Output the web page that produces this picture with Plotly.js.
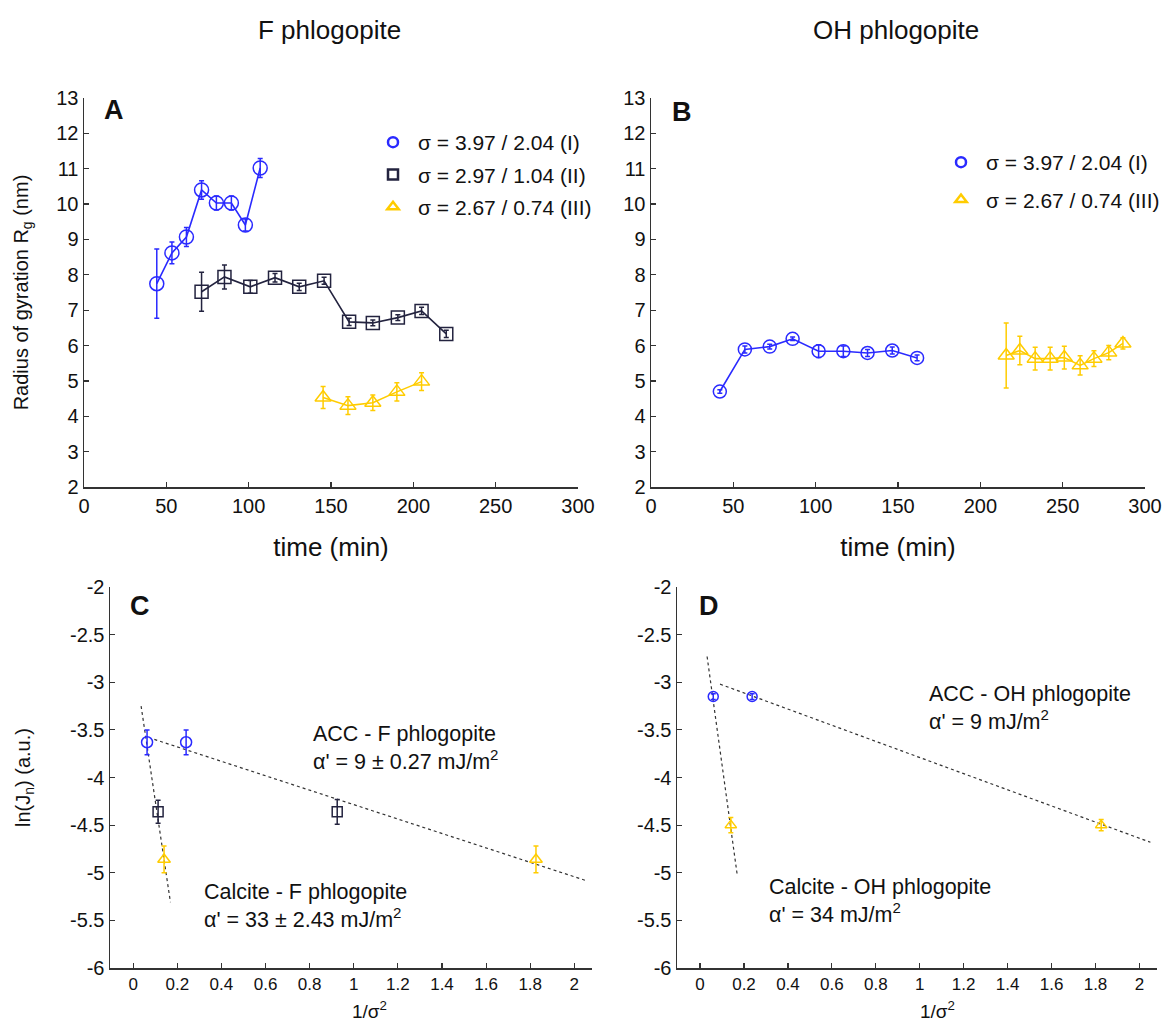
<!DOCTYPE html>
<html>
<head>
<meta charset="utf-8">
<script src="https://cdn.plot.ly/plotly-3.0.1.min.js"></script>
<style>html,body{margin:0;padding:0;background:#fff;}#chart{width:1169px;height:1025px;}</style>
</head>
<body>
<div id="chart"></div>
<script>
// ---------- Panel A: F phlogopite (time vs Rg) ----------
const timeA_I   = [44.2, 53.4, 62.2, 71.4, 80.4, 89.5, 98.0, 107.0];
const rgA_I     = [7.75, 8.62, 9.07, 10.40, 10.03, 10.03, 9.41, 11.02];
const errA_I    = [0.98, 0.31, 0.27, 0.26, 0.20, 0.20, 0.17, 0.27];

const timeA_II  = [71.4, 85.3, 101.0, 116.0, 130.7, 145.8, 161.0, 175.4, 190.6, 205.0, 220.0];
const rgA_II    = [7.52, 7.94, 7.66, 7.92, 7.66, 7.83, 6.67, 6.64, 6.79, 6.98, 6.33];
const errA_II   = [0.55, 0.34, 0.18, 0.12, 0.10, 0.10, 0.10, 0.08, 0.08, 0.10, 0.10];

const timeA_III = [145.2, 160.3, 175.4, 190.0, 205.0];
const rgA_III   = [4.53, 4.30, 4.38, 4.69, 4.98];
const errA_III  = [0.31, 0.25, 0.22, 0.26, 0.25];

// ---------- Panel B: OH phlogopite ----------
const timeB_I   = [41.8, 57.0, 72.1, 86.0, 101.8, 116.8, 131.5, 146.5, 161.6];
const rgB_I     = [4.70, 5.89, 5.97, 6.19, 5.84, 5.84, 5.79, 5.86, 5.65];
const errB_I    = [0.05, 0.10, 0.07, 0.05, 0.18, 0.15, 0.10, 0.10, 0.08];

const timeB_III = [215.7, 224.0, 233.3, 242.4, 251.0, 260.6, 269.0, 278.0, 286.6];
const rgB_III   = [5.72, 5.86, 5.63, 5.63, 5.66, 5.44, 5.63, 5.80, 6.06];
const errB_III  = [0.92, 0.40, 0.32, 0.32, 0.32, 0.27, 0.22, 0.20, 0.16];

// ---------- Panel C: ln(Jn) vs 1/sigma^2, F phlogopite ----------
const invSigC_I   = [0.063, 0.240];
const lnJC_I      = [-3.63, -3.63];
const errC_I      = [0.13, 0.13];
const invSigC_II  = [0.113, 0.925];
const lnJC_II     = [-4.36, -4.36];
const errC_II     = [0.12, 0.13];
const invSigC_III = [0.140, 1.826];
const lnJC_III    = [-4.86, -4.86];
const errC_III    = [0.14, 0.14];
const fitC_ACC_x  = [0.096, 2.05];
const fitC_ACC_y  = [-3.60, -5.08];
const fitC_Cal_x  = [0.036, 0.169];
const fitC_Cal_y  = [-3.25, -5.31];

// ---------- Panel D: ln(Jn) vs 1/sigma^2, OH phlogopite ----------
const invSigD_I   = [0.060, 0.237];
const lnJD_I      = [-3.15, -3.15];
const errD_I      = [0.03, 0.03];
const invSigD_III = [0.140, 1.826];
const lnJD_III    = [-4.50, -4.50];
const errD_III    = [0.08, 0.06];
const fitD_ACC_x  = [0.091, 2.05];
const fitD_ACC_y  = [-3.02, -4.68];
const fitD_Cal_x  = [0.032, 0.169];
const fitD_Cal_y  = [-2.73, -5.02];

// tick labels
const lnTickVals = [-2, -2.5, -3, -3.5, -4, -4.5, -5, -5.5, -6];
const lnTickText = ['-2', '-2.5', '-3', '-3.5', '-4', '-4.5', '-5', '-5.5', '-6'];
const invTickVals = [0, 0.2, 0.4, 0.6, 0.8, 1, 1.2, 1.4, 1.6, 1.8, 2];
const invTickText = ['0', '0.2', '0.4', '0.6', '0.8', '1', '1.2', '1.4', '1.6', '1.8', '2'];

const legI   = 'σ = 3.97 / 2.04 (I)';
const legII  = 'σ = 2.97 / 1.04 (II)';
const legIII = 'σ = 2.67 / 0.74 (III)';

// ---------- styles ----------
const BLUE = '#2a2aff';
const NAVY = '#23233f';
const GOLD = '#ffcc00';
const FONT = 'Liberation Sans, Arial, Helvetica, sans-serif';
const W = 1169, H = 1025;
const px = v => v / W;
const py = v => 1 - v / H;

function series(x, y, err, color, symbol, size, xa, ya, withLine) {
  return {
    x: x, y: y, xaxis: xa, yaxis: ya, type: 'scatter',
    mode: withLine ? 'lines+markers' : 'markers',
    line: {color: color, width: 1.6},
    marker: {symbol: symbol, size: size, color: color, line: {color: color, width: 1.5}},
    error_y: {type: 'data', array: err, visible: true, color: color, thickness: 1.5, width: 2.5},
    showlegend: false, hoverinfo: 'skip'
  };
}
function fitLine(x, y, xa, ya) {
  return {x: x, y: y, xaxis: xa, yaxis: ya, type: 'scatter', mode: 'lines',
    line: {color: '#333', width: 1.2, dash: 'dot'}, showlegend: false, hoverinfo: 'skip'};
}
function legendItem(name, color, symbol, xa, ya, leg) {
  return {x: [null], y: [null], xaxis: xa, yaxis: ya, type: 'scatter', mode: 'markers', name: name,
    legendgroup: leg + name,
    marker: {symbol: symbol, size: 10, color: color, line: {color: color, width: 2.5}},
    showlegend: true, legend: leg};
}

const traces = [
  series(timeA_I, rgA_I, errA_I, BLUE, 'circle-open', 14, 'x', 'y', true),
  series(timeA_II, rgA_II, errA_II, NAVY, 'square-open', 13, 'x', 'y', true),
  series(timeA_III, rgA_III, errA_III, GOLD, 'triangle-up-open', 14, 'x', 'y', true),
  legendItem(legI, BLUE, 'circle-open', 'x', 'y', 'legend'),
  legendItem(legII, NAVY, 'square-open', 'x', 'y', 'legend'),
  legendItem(legIII, GOLD, 'triangle-up-open', 'x', 'y', 'legend'),

  series(timeB_I, rgB_I, errB_I, BLUE, 'circle-open', 13, 'x2', 'y2', true),
  series(timeB_III, rgB_III, errB_III, GOLD, 'triangle-up-open', 14, 'x2', 'y2', true),
  legendItem(legI, BLUE, 'circle-open', 'x2', 'y2', 'legend2'),
  legendItem(legIII, GOLD, 'triangle-up-open', 'x2', 'y2', 'legend2'),

  fitLine(fitC_ACC_x, fitC_ACC_y, 'x3', 'y3'),
  fitLine(fitC_Cal_x, fitC_Cal_y, 'x3', 'y3'),
  series(invSigC_I, lnJC_I, errC_I, BLUE, 'circle-open', 11, 'x3', 'y3', false),
  series(invSigC_II, lnJC_II, errC_II, NAVY, 'square-open', 10, 'x3', 'y3', false),
  series(invSigC_III, lnJC_III, errC_III, GOLD, 'triangle-up-open', 11, 'x3', 'y3', false),

  fitLine(fitD_ACC_x, fitD_ACC_y, 'x4', 'y4'),
  fitLine(fitD_Cal_x, fitD_Cal_y, 'x4', 'y4'),
  series(invSigD_I, lnJD_I, errD_I, BLUE, 'circle-open', 10, 'x4', 'y4', false),
  series(invSigD_III, lnJD_III, errD_III, GOLD, 'triangle-up-open', 10, 'x4', 'y4', false)
];

function axisBase(extra) {
  return Object.assign({
    showline: true, linecolor: '#333', linewidth: 1.5, mirror: false,
    ticks: 'inside', ticklen: 5, tickwidth: 1.2, tickcolor: '#333',
    showgrid: false, zeroline: false, fixedrange: true,
    tickfont: {family: FONT, size: 20, color: '#111'}
  }, extra);
}

function note(text, x, y, size, xanchor) {
  return {text: text, x: px(x), y: py(y), xref: 'paper', yref: 'paper', showarrow: false,
    xanchor: xanchor || 'center', yanchor: 'middle', align: 'left', font: {size: size, color: '#111'}};
}

const layout = {
  width: W, height: H,
  margin: {l: 0, r: 0, t: 0, b: 0},
  paper_bgcolor: '#fff', plot_bgcolor: '#fff',
  font: {family: FONT, color: '#111'},
  showlegend: true,
  xaxis: axisBase({domain: [px(84), px(578)], range: [0, 300], dtick: 50, tick0: 0, anchor: 'y',
    title: {text: 'time (min)', font: {size: 26}, standoff: 22}}),
  yaxis: axisBase({domain: [py(487), py(98)], range: [2, 13], dtick: 1, tick0: 2, anchor: 'x',
    title: {text: 'Radius of gyration R<sub>g</sub> (nm)', font: {size: 20}, standoff: 22}}),
  xaxis2: axisBase({domain: [px(651), px(1145)], range: [0, 300], dtick: 50, tick0: 0, anchor: 'y2',
    title: {text: 'time (min)', font: {size: 26}, standoff: 22}}),
  yaxis2: axisBase({domain: [py(487), py(98)], range: [2, 13], dtick: 1, tick0: 2, anchor: 'x2'}),
  xaxis3: axisBase({domain: [px(110), px(592)], range: [-0.105, 2.08], tickvals: invTickVals, ticktext: invTickText,
    anchor: 'y3', tickfont: {family: FONT, size: 17, color: '#111'}}),
  yaxis3: axisBase({domain: [py(968), py(587)], range: [-6, -2], tickvals: lnTickVals, ticktext: lnTickText,
    anchor: 'x3', title: {text: 'ln(J<sub>n</sub>) (a.u.)', font: {size: 20}, standoff: 34}}),
  xaxis4: axisBase({domain: [px(677), px(1157)], range: [-0.105, 2.08], tickvals: invTickVals, ticktext: invTickText,
    anchor: 'y4', tickfont: {family: FONT, size: 17, color: '#111'}}),
  yaxis4: axisBase({domain: [py(968), py(587)], range: [-6, -2], tickvals: lnTickVals, ticktext: lnTickText,
    anchor: 'x4'}),
  legend: {x: px(368), y: py(122), xanchor: 'left', yanchor: 'top', bgcolor: 'rgba(0,0,0,0)',
    font: {family: FONT, size: 21, color: '#111'}, itemwidth: 40, traceorder: 'grouped', tracegroupgap: 2,
    itemclick: false, itemdoubleclick: false},
  legend2: {x: px(936), y: py(142), xanchor: 'left', yanchor: 'top', bgcolor: 'rgba(0,0,0,0)',
    font: {family: FONT, size: 21, color: '#111'}, itemwidth: 40, traceorder: 'grouped', tracegroupgap: 7,
    itemclick: false, itemdoubleclick: false},
  annotations: [
    note('F phlogopite', 330, 30, 26),
    note('OH phlogopite', 896, 30, 26),
    note('<b>A</b>', 114, 110, 27),
    note('<b>B</b>', 682, 112, 27),
    note('<b>C</b>', 140, 606, 27),
    note('<b>D</b>', 709, 606, 27),
    note('1/σ<sup>2</sup>', 370, 1010, 19),
    note('1/σ<sup>2</sup>', 937, 1010, 19),
    note('ACC - F phlogopite<br>α\' = 9 ± 0.27 mJ/m<sup>2</sup>', 311, 748, 21.5, 'left'),
    note('Calcite - F phlogopite<br>α\' = 33 ± 2.43 mJ/m<sup>2</sup>', 202, 906, 21.5, 'left'),
    note('ACC - OH phlogopite<br>α\' = 9 mJ/m<sup>2</sup>', 927, 708, 21.5, 'left'),
    note('Calcite - OH phlogopite<br>α\' = 34 mJ/m<sup>2</sup>', 767, 901, 21.5, 'left')
  ]
};

Plotly.newPlot('chart', traces, layout, {displayModeBar: false, staticPlot: true});
</script>
</body>
</html>
